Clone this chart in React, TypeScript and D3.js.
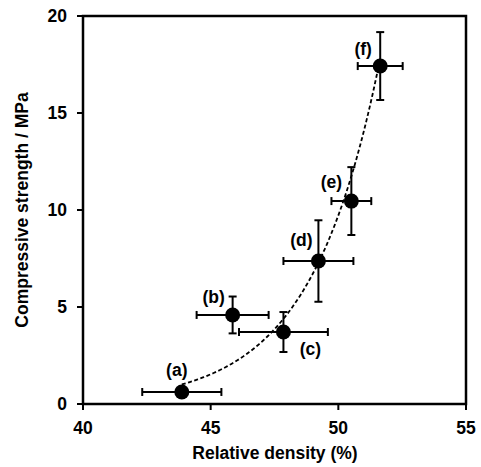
import React from "react";
import * as d3 from "d3";

const labels = ["(a)", "(b)", "(c)", "(d)", "(e)", "(f)"];
const density = [43.87, 45.86, 47.85, 49.22, 50.51, 51.64];
const densityErr = [1.55, 1.41, 1.74, 1.37, 0.78, 0.88];
const strength = [0.62, 4.59, 3.71, 7.37, 10.46, 17.42];
const strengthErr = [0, 0.95, 1.03, 2.1, 1.75, 1.75];
const xTicks = [40, 45, 50, 55];
const yTicks = [0, 5, 10, 15, 20];
// label offsets (dx, dy) relative to point in px
const labelOffsets: [number, number][] = [
  [-5, -16],
  [-19, -12],
  [27, 23],
  [-17, -15],
  [-20, -13],
  [-17, -11],
];

const W = 481;
const H = 467;
const left = 83;
const right = 466;
const top = 16;
const bottom = 404;
const font = "'Liberation Sans', Arial, sans-serif";
const fs = 17.5;

export default function App() {
  const x = d3.scaleLinear().domain([40, 55]).range([left, right]);
  const y = d3.scaleLinear().domain([0, 20]).range([bottom, top]);

  // Exponential trendline (least squares on ln y)
  const n = density.length;
  const lny = strength.map((v) => Math.log(v));
  const mx = d3.mean(density)!;
  const my = d3.mean(lny)!;
  let sxx = 0;
  let sxy = 0;
  for (let i = 0; i < n; i++) {
    sxx += (density[i] - mx) ** 2;
    sxy += (density[i] - mx) * (lny[i] - my);
  }
  const b = sxy / sxx;
  const a = my - b * mx;
  const x0 = d3.min(density)!;
  const x1 = d3.max(density)!;
  const curvePts: [number, number][] = d3
    .range(0, 101)
    .map((i) => {
      const xv = x0 + ((x1 - x0) * i) / 100;
      return [xv, Math.exp(a + b * xv)];
    });
  const line = d3
    .line<[number, number]>()
    .x((d) => x(d[0]))
    .y((d) => y(d[1]));

  const cap = 4;

  return (
    <svg
      width={W}
      height={H}
      style={{ position: "absolute", left: 0, top: 0 }}
      fontFamily={font}
    >
      <rect x={0} y={0} width={W} height={H} fill="#fff" />
      {/* frame */}
      <rect
        x={left}
        y={top}
        width={right - left}
        height={bottom - top}
        fill="none"
        stroke="#000"
        strokeWidth={2.5}
      />
      {/* x ticks */}
      {xTicks.map((t) => (
        <g key={"x" + t}>
          <line x1={x(t)} x2={x(t)} y1={bottom} y2={bottom + 6} stroke="#000" strokeWidth={2} />
          <text
            x={x(t)}
            y={434}
            textAnchor="middle"
            fontSize={fs}
            fontWeight="bold"
          >
            {t}
          </text>
        </g>
      ))}
      {/* y ticks */}
      {yTicks.map((t) => (
        <g key={"y" + t}>
          <line x1={left - 6} x2={left} y1={y(t)} y2={y(t)} stroke="#000" strokeWidth={2} />
          <text
            x={67}
            y={y(t) + 6.3}
            textAnchor="end"
            fontSize={fs}
            fontWeight="bold"
          >
            {t}
          </text>
        </g>
      ))}
      <text
        x={275}
        y={459}
        textAnchor="middle"
        fontSize={fs}
        fontWeight="bold"
      >
        Relative density (%)
      </text>
      <text
        transform={`translate(28,${(top + bottom) / 2}) rotate(-90)`}
        textAnchor="middle"
        fontSize={fs}
        fontWeight="bold"
      >
        Compressive strength / MPa
      </text>
      {/* trendline */}
      <path
        d={line(curvePts) || ""}
        fill="none"
        stroke="#000"
        strokeWidth={1.8}
        strokeDasharray="4,2.5"
      />
      {/* error bars and points */}
      {density.map((d, i) => {
        const cx = x(d);
        const cy = y(strength[i]);
        const xl = x(d - densityErr[i]);
        const xr = x(d + densityErr[i]);
        const yt = y(strength[i] + strengthErr[i]);
        const yb = y(strength[i] - strengthErr[i]);
        return (
          <g key={labels[i]} stroke="#000" strokeWidth={2}>
            <line x1={xl} x2={xr} y1={cy} y2={cy} />
            <line x1={xl} x2={xl} y1={cy - cap} y2={cy + cap} />
            <line x1={xr} x2={xr} y1={cy - cap} y2={cy + cap} />
            {strengthErr[i] > 0 && (
              <>
                <line x1={cx} x2={cx} y1={yt} y2={yb} />
                <line x1={cx - cap} x2={cx + cap} y1={yt} y2={yt} />
                <line x1={cx - cap} x2={cx + cap} y1={yb} y2={yb} />
              </>
            )}
            <circle cx={cx} cy={cy} r={7.5} fill="#000" stroke="none" />
          </g>
        );
      })}
      {density.map((d, i) => (
        <text
          key={"l" + i}
          x={x(d) + labelOffsets[i][0]}
          y={y(strength[i]) + labelOffsets[i][1]}
          textAnchor="middle"
          fontSize={fs}
          fontWeight="bold"
        >
          {labels[i]}
        </text>
      ))}
    </svg>
  );
}
